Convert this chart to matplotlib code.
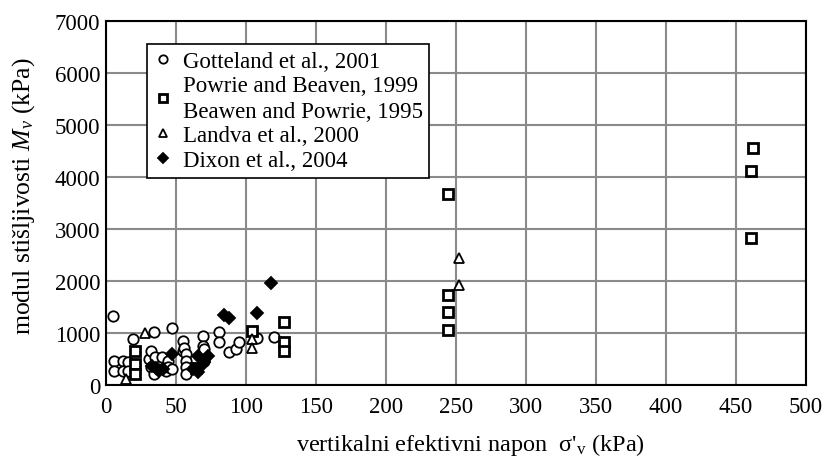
import matplotlib
matplotlib.use("Agg")
import matplotlib.pyplot as plt

plt.rcParams['font.family'] = ['Liberation Serif', 'DejaVu Serif']
plt.rcParams['mathtext.fontset'] = 'custom'
plt.rcParams['mathtext.rm'] = 'Liberation Serif'
plt.rcParams['mathtext.it'] = 'Liberation Serif:italic'

# Gotteland et al., 2001
got_x = [5, 19, 34, 47, 6, 12, 16, 6, 12, 16, 31, 32, 35, 40, 44, 32, 37, 43, 34, 44, 47,
         55, 55, 56, 57, 57, 57, 57, 69, 69, 70, 70, 81, 81, 88, 93, 95, 108, 120]
got_y = [1330, 890, 1010, 1100, 470, 470, 440, 275, 275, 275, 500, 660, 530, 530, 470, 340, 310, 275, 210, 340, 310,
         850, 660, 720, 600, 470, 340, 210, 950, 760, 690, 470, 1010, 820, 630, 690, 820, 900, 920]

# Powrie and Beaven, 1999 / Beaven and Powrie, 1995
pow_x = [21, 21, 21, 64, 104, 127, 127, 127, 244, 244, 244, 244, 462, 461, 461]
pow_y = [650, 400, 210, 330, 1045, 1220, 830, 660, 3670, 1740, 1400, 1060, 4560, 4120, 2830]

# Landva et al., 2000
lan_x = [14, 28, 104, 104, 252, 252]
lan_y = [120, 1000, 880, 720, 2450, 1930]

# Dixon et al., 2004
dix_x = [33, 38, 41, 36, 47, 66, 73, 62, 68, 66, 70, 84, 88, 108, 118]
dix_y = [370, 275, 310, 330, 600, 560, 560, 310, 370, 250, 440, 1350, 1280, 1380, 1960]

labels = ["Gotteland et al., 2001",
          "Powrie and Beaven, 1999\nBeawen and Powrie, 1995",
          "Landva et al., 2000",
          "Dixon et al., 2004"]

x_ticks = list(range(0, 501, 50))
y_ticks = list(range(0, 7001, 1000))

fig = plt.figure(figsize=(8.25, 4.64), dpi=100)
ax = fig.add_axes([0.1285, 0.168, 0.8485, 0.785])

kw = dict(linestyle='none', markeredgecolor='black', markeredgewidth=1.3, zorder=3)
h1, = ax.plot(got_x, got_y, marker='o', markersize=7.5, markerfacecolor='white', **kw)
h2, = ax.plot(pow_x, pow_y, marker='s', markersize=7.5, markerfacecolor='white',
              markeredgecolor='black', markeredgewidth=2.0, linestyle='none', zorder=3)
h3, = ax.plot(lan_x, lan_y, marker='^', markersize=7, markerfacecolor='white', **kw)
h4, = ax.plot(dix_x, dix_y, marker='D', markersize=6.5, markerfacecolor='black', **kw)

ax.set_xlim(0, 500)
ax.set_ylim(0, 7000)
ax.set_xticks(x_ticks)
ax.set_yticks(y_ticks)
ax.grid(True, color='#8a8a8a', linewidth=1.5)
ax.set_axisbelow(True)
for s in ax.spines.values():
    s.set_linewidth(1.5)
    s.set_color('black')
ax.tick_params(axis='both', length=0, labelsize=16.5)
ax.tick_params(axis='x', pad=8)
ax.tick_params(axis='y', pad=4)

ax.set_ylabel(r"modul stišljivosti $M_v$ (kPa)", fontsize=18.5)
ax.yaxis.set_label_coords(-0.098, 0.52)
ax.set_xlabel(r"vertikalni efektivni napon  σ'$_{\mathrm{v}}$ (kPa)", fontsize=17.5)
ax.xaxis.set_label_coords(0.52, -0.125)

leg = ax.legend([h1, h2, h3, h4], labels, loc='upper left',
                bbox_to_anchor=(0.0586, 0.937), borderaxespad=0, fontsize=16.5,
                frameon=True, fancybox=False, edgecolor='black', framealpha=1,
                handlelength=0.8, handletextpad=0.45, borderpad=0.3,
                labelspacing=0.15, markerscale=0.8)
for t in leg.get_texts():
    t.set_linespacing(1.3)
leg.get_frame().set_linewidth(1.2)

fig.savefig("out.png", dpi=100)
